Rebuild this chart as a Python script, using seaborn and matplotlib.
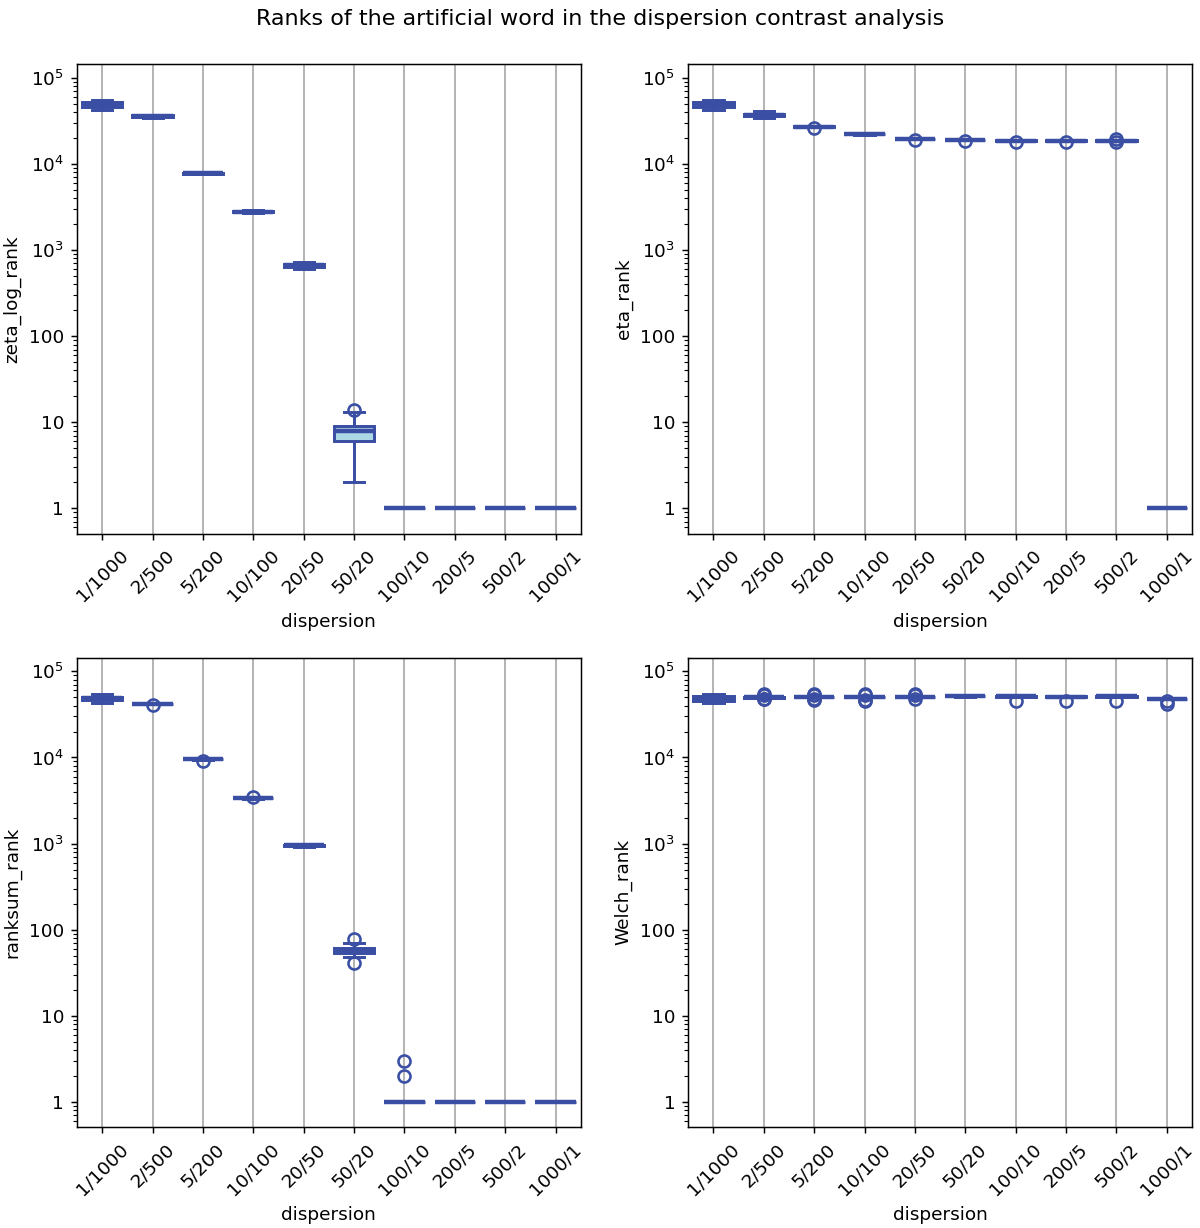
import numpy as np
import pandas as pd
import matplotlib
matplotlib.use("Agg")
import matplotlib.pyplot as plt
import matplotlib.ticker as mticker
import seaborn as sns

# dispersion settings (number of documents / occurrences per document)
dispersions = ["1/1000", "2/500", "5/200", "10/100", "20/50",
               "50/20", "100/10", "200/5", "500/2", "1000/1"]

# ranks of the artificial word, 10 runs per dispersion setting
zeta_log_rank = [
    [42000, 44500, 46000, 47500, 49000, 50500, 52000, 53000, 54500, 55500],
    [34500, 35000, 35500, 35800, 36000, 36200, 36500, 36800, 37000, 37500],
    [7600, 7650, 7700, 7750, 7800, 7800, 7850, 7900, 7950, 8000],
    [2700, 2720, 2750, 2780, 2800, 2800, 2820, 2850, 2880, 2900],
    [600, 620, 640, 650, 660, 670, 680, 690, 700, 720],
    [2, 5, 6, 6, 8, 8, 9, 9, 13, 14],
    [1, 1, 1, 1, 1, 1, 1, 1, 1, 1],
    [1, 1, 1, 1, 1, 1, 1, 1, 1, 1],
    [1, 1, 1, 1, 1, 1, 1, 1, 1, 1],
    [1, 1, 1, 1, 1, 1, 1, 1, 1, 1],
]

eta_rank = [
    [42000, 44000, 46000, 47500, 49000, 50000, 51500, 53000, 54500, 56000],
    [34000, 35000, 35500, 36000, 36500, 37000, 37500, 38500, 40000, 41000],
    [26200, 27000, 27050, 27100, 27150, 27200, 27250, 27300, 27350, 27400],
    [21800, 21900, 22000, 22000, 22100, 22100, 22200, 22200, 22300, 22400],
    [19000, 19400, 19450, 19500, 19500, 19550, 19600, 19600, 19650, 19700],
    [18500, 18900, 18950, 19000, 19000, 19050, 19100, 19100, 19150, 19200],
    [18200, 18600, 18650, 18700, 18700, 18750, 18800, 18800, 18850, 18900],
    [18200, 18600, 18650, 18700, 18700, 18750, 18800, 18800, 18850, 18900],
    [18200, 18600, 18650, 18700, 18700, 18750, 18800, 18800, 18850, 19400],
    [1, 1, 1, 1, 1, 1, 1, 1, 1, 1],
]

ranksum_rank = [
    [43000, 44500, 46000, 47000, 48000, 49000, 50000, 51000, 52500, 54000],
    [40800, 41600, 41700, 41800, 41900, 42000, 42100, 42200, 42300, 42400],
    [9150, 9450, 9480, 9500, 9520, 9540, 9560, 9580, 9600, 9650],
    [3300, 3320, 3340, 3350, 3360, 3370, 3380, 3390, 3400, 3500],
    [920, 930, 940, 950, 955, 960, 965, 970, 980, 990],
    [41, 48, 54, 54, 57, 59, 62, 62, 70, 78],
    [1, 1, 1, 1, 1, 1, 1, 1, 2, 3],
    [1, 1, 1, 1, 1, 1, 1, 1, 1, 1],
    [1, 1, 1, 1, 1, 1, 1, 1, 1, 1],
    [1, 1, 1, 1, 1, 1, 1, 1, 1, 1],
]

Welch_rank = [
    [43000, 44500, 45500, 46500, 48000, 49500, 51000, 52500, 53500, 54500],
    [47500, 48000, 49500, 49800, 50000, 50100, 50300, 50500, 52500, 54000],
    [46000, 47500, 49800, 49900, 50000, 50100, 50200, 50300, 52500, 54000],
    [45000, 47000, 49900, 50000, 50050, 50100, 50200, 50300, 53000, 55000],
    [47500, 49800, 49900, 50000, 50050, 50100, 50200, 50300, 52500, 54000],
    [51000, 51300, 51500, 51700, 51800, 51900, 52000, 52200, 52400, 52600],
    [45500, 50200, 50500, 50800, 51000, 51200, 51400, 51600, 51800, 52200],
    [45500, 50000, 50300, 50600, 50800, 51000, 51200, 51400, 51600, 52000],
    [45500, 50200, 50500, 50800, 51000, 51200, 51400, 51700, 52000, 52400],
    [41500, 45800, 47200, 47400, 47600, 47800, 48000, 48200, 48400, 48600],
]

metrics = {
    "zeta_log_rank": zeta_log_rank,
    "eta_rank": eta_rank,
    "ranksum_rank": ranksum_rank,
    "Welch_rank": Welch_rank,
}

rows = []
for disp_i, disp in enumerate(dispersions):
    for run in range(10):
        row = {"dispersion": disp}
        for name, vals in metrics.items():
            row[name] = vals[disp_i][run]
        rows.append(row)
df = pd.DataFrame(rows)
df["dispersion"] = pd.Categorical(df["dispersion"], categories=dispersions, ordered=True)

edge = "#3a4fa3"


def rank_fmt(v, pos):
    if v <= 0:
        return ""
    e = int(round(np.log10(v)))
    if e < 3:
        return f"{10 ** e}"
    return f"$10^{{{e}}}$"


fig, axes = plt.subplots(2, 2, figsize=(9, 9.21))
fig.subplots_adjust(left=0.0642, right=0.9933, top=0.9479, bottom=0.0822,
                    wspace=0.2134, hspace=0.264)

for ax, name in zip(axes.flat, metrics):
    sns.boxplot(data=df, x="dispersion", y=name, ax=ax,
                color="lightblue", saturation=1, linecolor=edge,
                linewidth=1.6, fliersize=6.5, width=0.8,
                medianprops={"linewidth": 2.4})
    for fl in ax.lines:
        if fl.get_marker() not in (None, "None", ""):
            fl.set_markerfacecolor("none")
            fl.set_markeredgecolor(edge)
            fl.set_markeredgewidth(1.4)
    ax.set_yscale("log")
    ax.set_ylim(0.51, 1.45e5)
    ax.yaxis.set_major_locator(mticker.LogLocator(base=10, numticks=10))
    ax.yaxis.set_major_formatter(mticker.FuncFormatter(rank_fmt))
    ax.yaxis.set_minor_formatter(mticker.NullFormatter())
    ax.xaxis.grid(True, color="#b0b0b0", linewidth=1.0)
    ax.set_axisbelow(True)
    ax.tick_params(axis="x", labelrotation=45)
    ax.set_xlabel("dispersion")
    ax.set_ylabel(name)

fig.suptitle("Ranks of the artificial word in the dispersion contrast analysis",
             fontsize=12, y=0.993)

fig.savefig("out.png", dpi=400 / 3)
